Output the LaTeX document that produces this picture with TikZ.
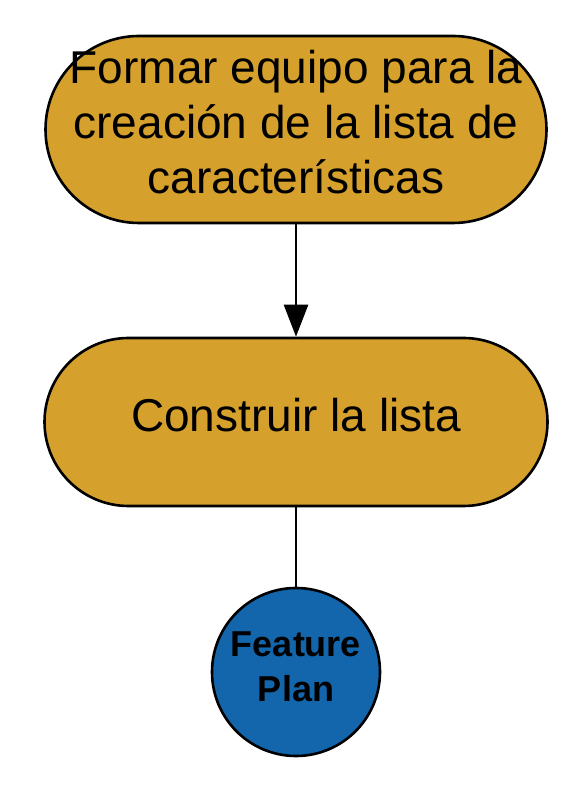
\documentclass[tikz,border=0pt]{standalone}
\usepackage{fontspec}
\setmainfont{Liberation Sans}
\usetikzlibrary{arrows.meta}
\definecolor{gold}{HTML}{D5A02C}
\definecolor{planblue}{HTML}{1366AC}
\begin{document}
\begin{tikzpicture}[x=1pt,y=1pt,
  stadium/.style={draw=black,line width=2.6pt,fill=gold,rectangle,inner sep=0pt},
  bigtext/.style={font=\fontsize{46}{55}\selectfont,align=center,inner sep=0pt},
  circtext/.style={font=\fontsize{36}{45}\selectfont\bfseries,align=center,inner sep=0pt},
  conn/.style={line width=2.6pt,draw=black}]
\useasboundingbox (0,0) rectangle (567,792);
\node[stadium,minimum width=501pt,minimum height=187pt,rounded corners=93.5pt] (s1) at (296,662.5) {};
\node[stadium,minimum width=503pt,minimum height=168pt,rounded corners=84pt] (s2) at (296,370) {};
\node[draw=black,line width=2.6pt,fill=planblue,circle,minimum size=168pt,inner sep=0pt] (c) at (296,120) {};
\node[bigtext] (t1) at (296,792-122) {Formar equipo para la\\creación de la lista de\\características};
\node[bigtext,anchor=base] (t2) at (296,792-432) {Construir la lista};
\node[circtext] (t3) at (296,792-666.5) {Feature\\Plan};
\draw[conn,-{Triangle[length=32pt,width=24pt]}] (s1.south) -- (s2.north);
\draw[conn] (s2.south) -- (c.north);
\end{tikzpicture}
\end{document}
